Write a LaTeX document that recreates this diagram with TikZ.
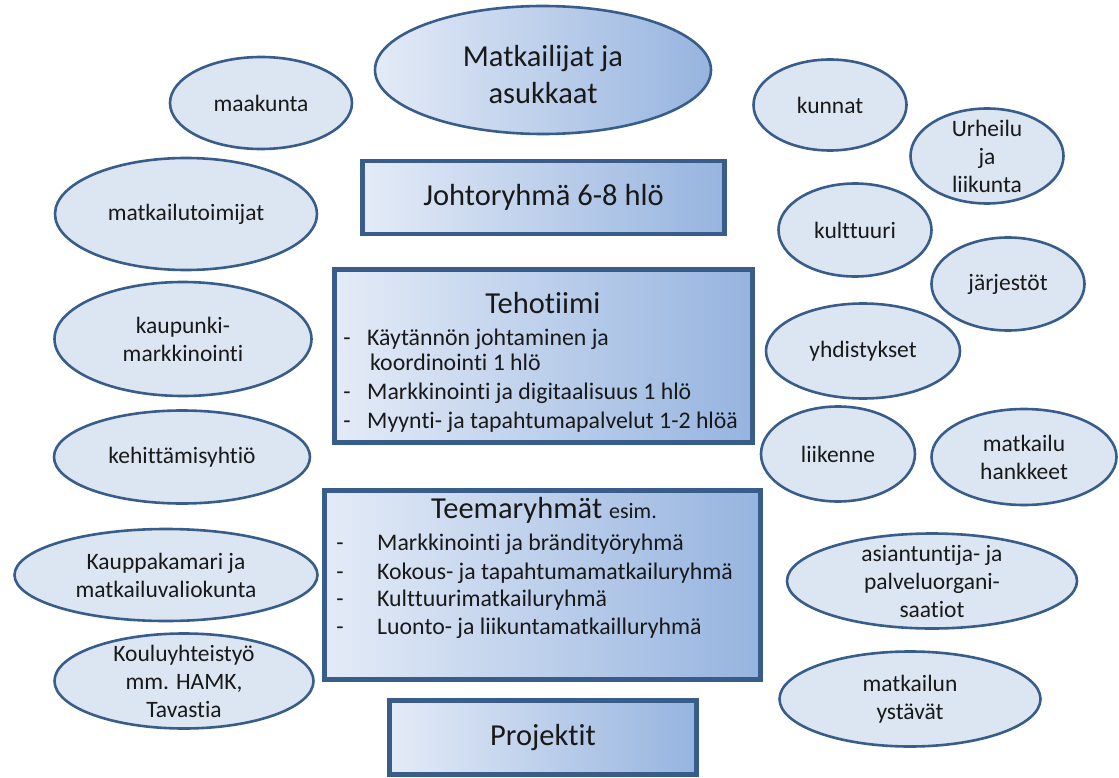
\documentclass[tikz,border=0pt]{standalone}
\usepackage{fontspec}
\setmainfont{Carlito}[Ligatures=NoCommon]
\usetikzlibrary{shapes.geometric}

\definecolor{edgeblue}{RGB}{56,93,138}
\definecolor{blobfill}{RGB}{220,230,242}
\definecolor{shadeL}{RGB}{228,235,247}
\definecolor{shadeR}{RGB}{150,180,223}
\definecolor{ink}{RGB}{25,25,25}

\tikzset{
  blob/.style={ellipse, draw=edgeblue, line width=2.6pt, fill=blobfill, inner sep=0pt},
  blobtext/.style={font=\fontsize{23.5}{28}\selectfont, text=ink, align=center},
  panel/.style={rectangle, draw=edgeblue, line width=4.5pt, left color=shadeL, right color=shadeR, inner sep=0pt},
  bigtext/.style={font=\fontsize{30.5}{37}\selectfont, text=ink, align=center},
  itemtext/.style={font=\fontsize{23.8}{28}\selectfont, text=ink, anchor=base west, inner sep=0pt},
}

\begin{document}
\begin{tikzpicture}[x=1pt,y=-1pt]
\useasboundingbox (0,0) rectangle (1119,778);

% middle column
\node[blob, left color=shadeL, right color=shadeR, minimum width=336pt, minimum height=128pt,
  label={[bigtext, yshift=-5pt]center:{Matkailijat ja\\asukkaat}}] (matkailijat) at (543,70) {};
\node[panel, minimum width=362pt, minimum height=73pt, bigtext] (johto) at (543.5,197.5) {Johtoryhmä 6-8 hlö};

\node[panel, minimum width=418pt, minimum height=173pt] (teho) at (543.5,356) {};
\node[bigtext, anchor=base] (tehoTitle) at (543,313) {Tehotiimi};
\node[itemtext, anchor=base] (tehoD1) at (347,345) {-};
\node[itemtext] (teho1) at (367,345) {Käytännön johtaminen ja};
\node[itemtext] (teho1b) at (370,370) {koordinointi 1 hlö};
\node[itemtext, anchor=base] (tehoD2) at (347,399) {-};
\node[itemtext] (teho2) at (367,399) {Markkinointi ja digitaalisuus 1 hlö};
\node[itemtext, anchor=base] (tehoD3) at (347,428) {-};
\node[itemtext] (teho3) at (367,428) {Myynti- ja tapahtumapalvelut 1-2 hlöä};

\node[panel, minimum width=436pt, minimum height=189pt] (teema) at (542.5,585) {};
\node[bigtext, anchor=base] (teemaTitle) at (544,518) {Teemaryhmät {\fontsize{22}{24}\selectfont esim.}};
\node[itemtext, anchor=base] (teemaD1) at (340,550) {-};
\node[itemtext] (teema1) at (377,550) {Markkinointi ja brändityöryhmä};
\node[itemtext, anchor=base] (teemaD2) at (340,579) {-};
\node[itemtext] (teema2) at (377,579) {Kokous- ja tapahtumamatkailuryhmä};
\node[itemtext, anchor=base] (teemaD3) at (340,606) {-};
\node[itemtext] (teema3) at (377,606) {Kulttuurimatkailuryhmä};
\node[itemtext, anchor=base] (teemaD4) at (340,634) {-};
\node[itemtext] (teema4) at (377,634) {Luonto- ja liikuntamatkailluryhmä};

\node[panel, minimum width=307pt, minimum height=74pt, bigtext] (projektit) at (543,737.5) {Projektit};

% left side
\node[blob, minimum width=182pt, minimum height=92pt, label={[blobtext]center:maakunta}] (maakunta) at (261,103) {};
\node[blob, minimum width=262pt, minimum height=112pt, label={[blobtext]center:matkailutoimijat}] (toimijat) at (186,214) {};
\node[blob, minimum width=257pt, minimum height=114pt, label={[blobtext]center:{kaupunki-\\markkinointi}}] (kaupunki) at (183,339) {};
\node[blob, minimum width=256pt, minimum height=93pt, label={[blobtext]center:kehittämisyhtiö}] (kehitys) at (182,457) {};
\node[blob, minimum width=303pt, minimum height=92pt, label={[blobtext]center:{Kauppakamari ja\\matkailuvaliokunta}}] (kauppakamari) at (166,575) {};
\node[blob, minimum width=259pt, minimum height=95pt, label={[blobtext]center:{Kouluyhteistyö\\mm. HAMK,\\Tavastia}}] (koulu) at (184,681) {};

% right side
\node[blob, minimum width=153pt, minimum height=91pt, label={[blobtext]center:kunnat}] (kunnat) at (830,105) {};
\node[blob, minimum width=153pt, minimum height=95pt, label={[blobtext]center:{Urheilu\\ja\\liikunta}}] (urheilu) at (987,156) {};
\node[blob, minimum width=153pt, minimum height=93pt, label={[blobtext]center:kulttuuri}] (kulttuuri) at (855,230) {};
\node[blob, minimum width=153pt, minimum height=93pt, label={[blobtext]center:järjestöt}] (jarjestot) at (1008,284) {};
\node[blob, minimum width=194pt, minimum height=95pt, label={[blobtext]center:yhdistykset}] (yhdistykset) at (863,351) {};
\node[blob, minimum width=154pt, minimum height=95pt, label={[blobtext]center:liikenne}] (liikenne) at (838,454) {};
\node[blob, minimum width=185pt, minimum height=96pt, label={[blobtext]center:{matkailu\\hankkeet}}] (hankkeet) at (1024,457) {};
\node[blob, minimum width=290pt, minimum height=95pt, label={[blobtext]center:{asiantuntija- ja\\palveluorgani-\\saatiot}}] (asiantuntijat) at (932,581) {};
\node[blob, minimum width=261pt, minimum height=95pt, label={[blobtext]center:{matkailun\\ystävät}}] (ystavat) at (910,699) {};
\end{tikzpicture}
\end{document}
